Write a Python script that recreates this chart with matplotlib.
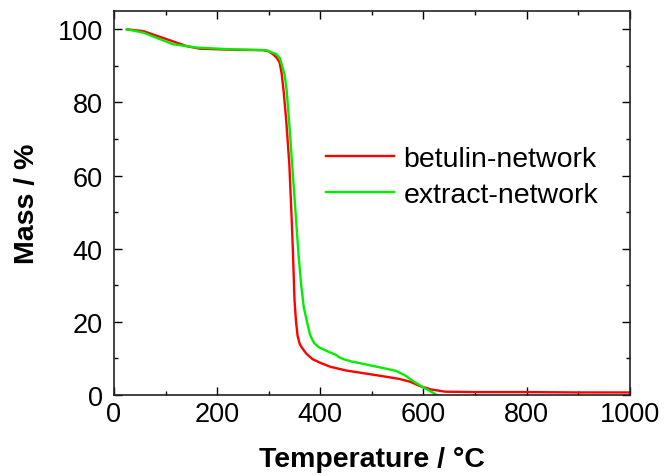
import matplotlib
matplotlib.use("Agg")
import matplotlib.pyplot as plt
from matplotlib.ticker import MultipleLocator

plt.rcParams["font.family"] = ["Liberation Sans", "DejaVu Sans"]

# TGA curves
betulin_T = [25, 57, 102, 141, 166, 231, 289, 300, 308, 315, 321, 325, 329, 334, 340,
             344, 347, 350, 353, 356, 360, 365, 373, 385, 400, 420, 450, 514, 553,
             575, 592, 615, 643, 700, 800, 900, 1000]
betulin_M = [100, 99.5, 97.3, 95.4, 94.7, 94.4, 94.3, 94.0, 93.2, 92.3, 91, 88, 83, 75, 63,
             50, 39, 26, 20, 16.2, 14, 12.8, 11.3, 9.8, 8.8, 7.7, 6.7, 5.3, 4.4,
             3.6, 2.5, 1.5, 0.9, 0.8, 0.8, 0.7, 0.7]

extract_T = [25, 57, 89, 115, 160, 231, 295, 315, 322, 327, 331, 335, 340, 344, 349,
             353, 358, 363, 368, 373, 380, 388, 398, 418, 430, 437, 445, 460, 480,
             514, 547, 565, 579, 598, 615, 632, 650]
extract_M = [100, 99.1, 97.3, 95.9, 95, 94.5, 94.3, 93.2, 92, 89.5, 87.5, 83, 74, 66, 56,
             48, 38, 30, 24, 20.8, 16.5, 14.2, 13, 11.7, 11, 10.3, 9.8, 9.2, 8.6,
             7.6, 6.6, 5.3, 3.9, 2.2, 0.9, -0.5, -2]

labels = ["betulin-network", "extract-network"]
colors = ["#ff0000", "#00ee00"]

fig = plt.figure(figsize=(6.65, 4.77), dpi=100)
ax = fig.add_axes([0.1714, 0.1698, 0.947 - 0.1714, 0.9748 - 0.1698])

ax.plot(betulin_T, betulin_M, color=colors[0], lw=1.7, label=labels[0])
ax.plot(extract_T, extract_M, color=colors[1], lw=1.7, label=labels[1])

ax.set_xlim(0, 1000)
ax.set_ylim(0, 105)
ax.xaxis.set_major_locator(MultipleLocator(200))
ax.xaxis.set_minor_locator(MultipleLocator(100))
ax.yaxis.set_major_locator(MultipleLocator(20))
ax.yaxis.set_minor_locator(MultipleLocator(10))
ax.tick_params(which="both", direction="in", top=True, right=True, labelsize=19.5, width=1.0)
ax.tick_params(which="major", length=6)
ax.tick_params(which="minor", length=3)
ax.tick_params(axis="x", which="major", pad=4)
ax.tick_params(axis="y", which="major", pad=8)
for s in ax.spines.values():
    s.set_linewidth(1.2)
    s.set_color("#222222")

ax.set_xlabel("Temperature / °C", fontsize=20.5, fontweight="bold", labelpad=14)
ax.set_ylabel("Mass / %", fontsize=20.5, fontweight="bold", labelpad=13)

ax.legend(loc="upper left", bbox_to_anchor=(0.411, 0.648), frameon=False, fontsize=20.5,
          handlelength=2.4, handletextpad=0.32, labelspacing=0.33, borderpad=0, borderaxespad=0)

fig.savefig("out.png", dpi=100)
